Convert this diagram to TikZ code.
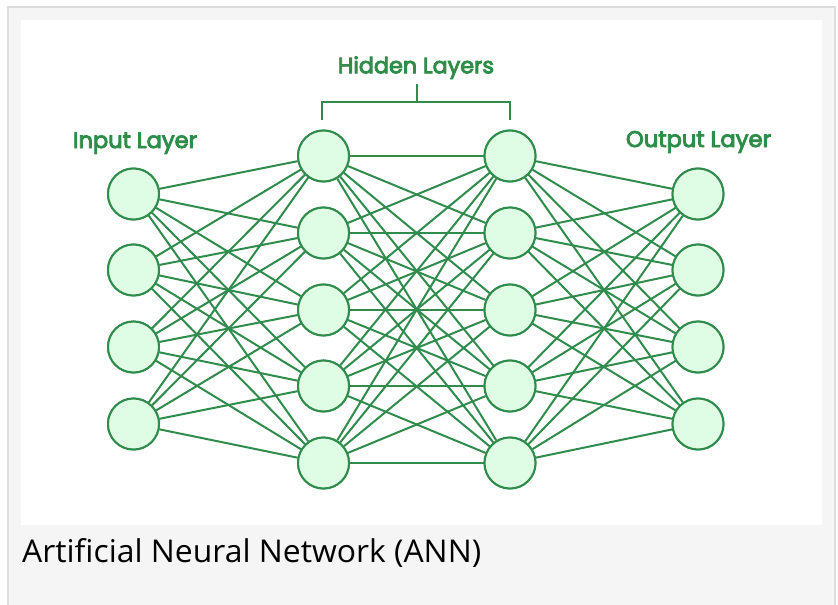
\documentclass[tikz,border=0pt]{standalone}
\usepackage{fontspec}
\usepackage{graphicx}
\newfontfamily\lblfont{Poppins}[FakeBold=4]
\newfontfamily\capfont{Open Sans}
\definecolor{gline}{HTML}{2F8C4C}
\definecolor{gfill}{HTML}{DFFCE4}
\definecolor{gtext}{HTML}{2F8D4A}
\definecolor{panel}{HTML}{F5F5F5}
\definecolor{pborder}{HTML}{DDDDDD}
\tikzset{
  neuron/.style={circle, draw=gline, fill=gfill, line width=2pt, minimum size=51pt, inner sep=0pt},
  edge/.style={draw=gline, line width=2pt},
  bracket/.style={draw=gline, line width=2pt},
  lbl/.style={anchor=base, text=gtext, inner sep=0pt}
}
\begin{document}
\begin{tikzpicture}[x=1pt, y=-1pt]
\useasboundingbox (0,0) rectangle (838,605);
\fill[white] (0,0) rectangle (838,605);
\draw[fill=panel, draw=pborder, line width=2pt] (8,7) rectangle (835,625);
\fill[white] (21,20) rectangle (822,525);

% nodes
\foreach \i/\y in {1/194,2/270,3/347,4/424} {
  \node[neuron] (i\i) at (133.5,\y) {};
  \node[neuron] (o\i) at (698,\y) {};
}
\foreach \i/\y in {1/156,2/233,3/310,4/386,5/463} {
  \node[neuron] (a\i) at (323.5,\y) {};
  \node[neuron] (b\i) at (510,\y) {};
}
% edges
\foreach \i in {1,...,4} \foreach \j in {1,...,5} \draw[edge] (i\i) -- (a\j);
\foreach \i in {1,...,5} \foreach \j in {1,...,5} \draw[edge] (a\i) -- (b\j);
\foreach \i in {1,...,5} \foreach \j in {1,...,4} \draw[edge] (b\i) -- (o\j);
% redraw nodes on top
\foreach \i/\y in {1/194,2/270,3/347,4/424} {
  \node[neuron] at (133.5,\y) {};
  \node[neuron] at (698,\y) {};
}
\foreach \i/\y in {1/156,2/233,3/310,4/386,5/463} {
  \node[neuron] at (323.5,\y) {};
  \node[neuron] at (510,\y) {};
}

% labels
\node[lbl] (lin) at (135,148) {\resizebox{124pt}{!}{\lblfont Input Layer}};
\node[lbl] (lout) at (698.5,147) {\resizebox{145pt}{!}{\lblfont Output Layer}};
\node[lbl] (lhid) at (416,73.3) {\resizebox{156pt}{!}{\lblfont Hidden Layers}};

% bracket
\coordinate (bl) at (322,120);
\coordinate (br) at (509.5,120);
\coordinate (bt) at (417,84);
\coordinate (bm) at (417,102);
\draw[bracket] (bl) -- ++(0,-18) -| (br);
\draw[bracket] (bt) -- (bm);

% caption
\node[anchor=base west, inner sep=0pt] (cap) at (22,562) {\resizebox{459pt}{24pt}{\capfont Artificial Neural Network (ANN)}};
\end{tikzpicture}
\end{document}
